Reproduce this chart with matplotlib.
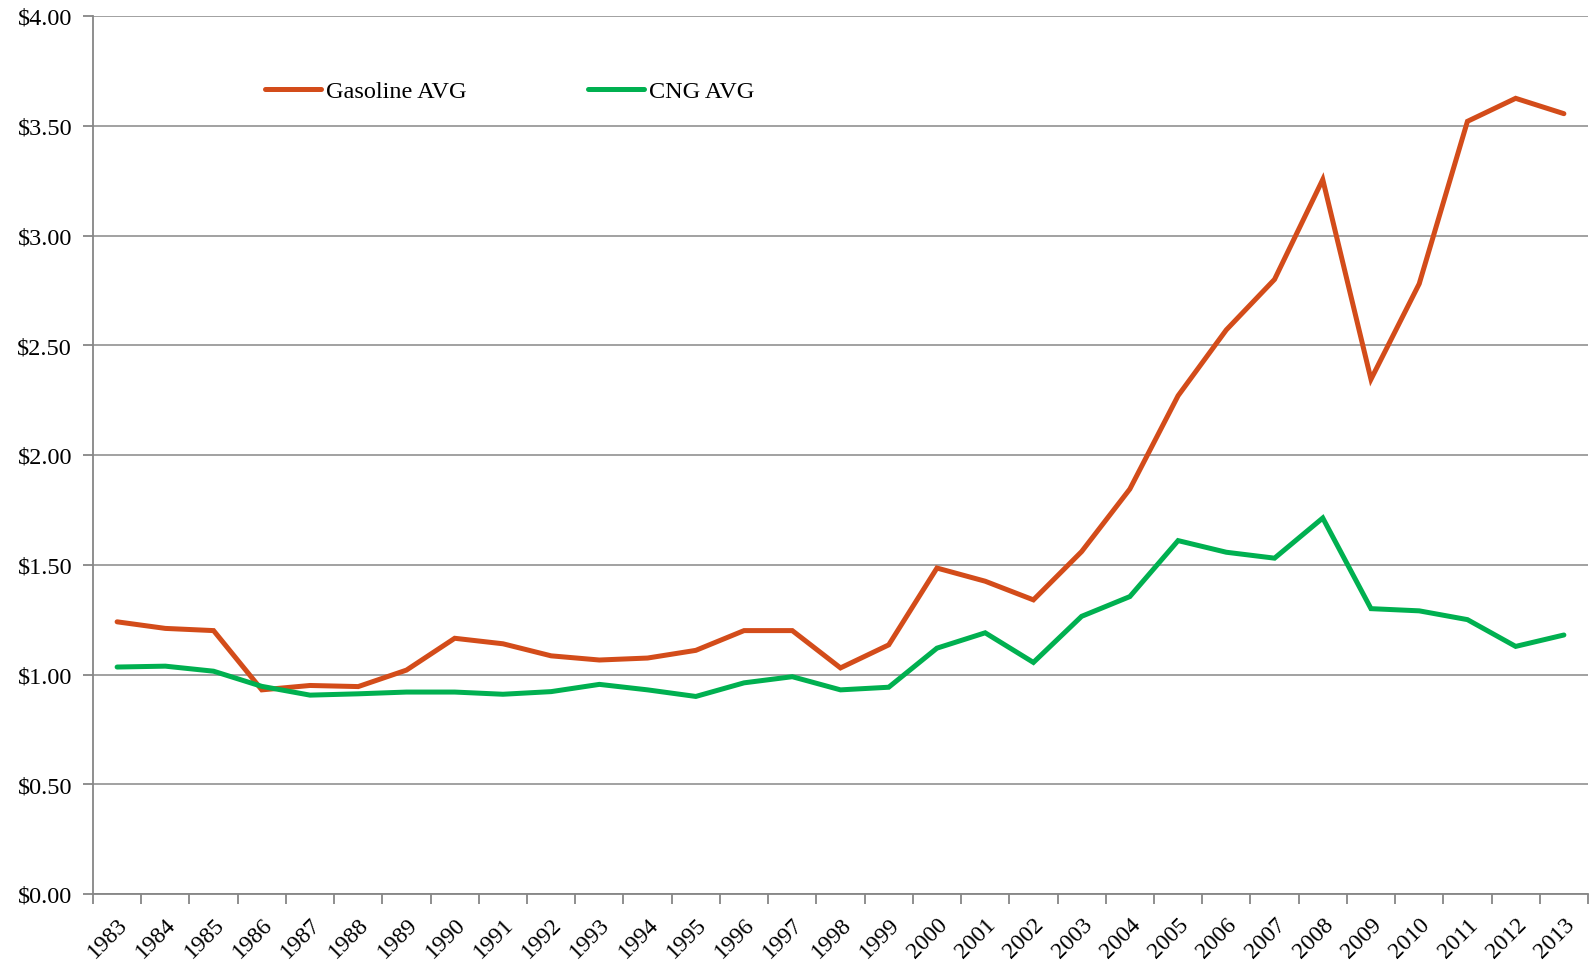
import matplotlib
matplotlib.use("Agg")
import matplotlib.pyplot as plt
from matplotlib.ticker import FixedLocator, NullFormatter, FixedFormatter

years = [str(y) for y in range(1983, 2014)]
gasoline = [1.24, 1.21, 1.20, 0.93, 0.95, 0.945, 1.02, 1.165, 1.14, 1.085, 1.066, 1.075,
            1.11, 1.20, 1.20, 1.03, 1.135, 1.485, 1.425, 1.34, 1.56, 1.845, 2.27, 2.57,
            2.80, 3.255, 2.345, 2.78, 3.52, 3.625, 3.555]
cng = [1.034, 1.038, 1.015, 0.946, 0.906, 0.912, 0.92, 0.92, 0.91, 0.922, 0.955, 0.93,
       0.90, 0.962, 0.99, 0.93, 0.942, 1.12, 1.19, 1.055, 1.265, 1.355, 1.61, 1.557,
       1.53, 1.713, 1.30, 1.29, 1.25, 1.128, 1.18]
yticks = [0.0, 0.5, 1.0, 1.5, 2.0, 2.5, 3.0, 3.5, 4.0]

plt.rcParams['font.family'] = ['Liberation Serif', 'DejaVu Serif']

W, H = 1595, 962
fig = plt.figure(figsize=(W / 100, H / 100), dpi=100)
ax = fig.add_axes([93 / W, 1 - 895 / H, (1588 - 93) / W, (895 - 17) / H])

x = list(range(len(years)))
ax.plot(x, gasoline, color='#D34C1A', lw=3.6, solid_capstyle='round', solid_joinstyle='miter', label='Gasoline AVG', zorder=3)
ax.plot(x, cng, color='#00B050', lw=3.6, solid_capstyle='round', solid_joinstyle='miter', label='CNG AVG', zorder=3)

ax.set_xlim(-0.5, len(years) - 0.5)
ax.set_ylim(0, 4)
ax.set_yticks(yticks)
ax.set_yticklabels(['$%.2f' % v for v in yticks], fontsize=17.5)
ax.yaxis.grid(True, color='#9A9A9A', lw=1.3)
ax.set_axisbelow(True)

ax.xaxis.set_major_locator(FixedLocator([i - 0.5 for i in range(len(years) + 1)]))
ax.xaxis.set_major_formatter(NullFormatter())
ax.xaxis.set_minor_locator(FixedLocator(x))
ax.xaxis.set_minor_formatter(FixedFormatter(years))
ax.tick_params(axis='x', which='major', length=7, width=1.3, color='#868686', direction='out')
ax.tick_params(axis='x', which='minor', length=0, labelsize=17, pad=14)
ax.tick_params(axis='y', length=7, width=1.3, color='#868686', pad=8)
for lab in ax.xaxis.get_minorticklabels():
    lab.set_rotation(45)
    lab.set_ha('right')
    lab.set_va('top')
    lab.set_rotation_mode('anchor')

for s in ['top', 'right']:
    ax.spines[s].set_visible(False)
for s in ['left', 'bottom']:
    ax.spines[s].set_color('#868686')
    ax.spines[s].set_linewidth(1.3)

fig.legend(*ax.get_legend_handles_labels(), loc='center left',
           bbox_to_anchor=(265 / W, 1 - 92 / H), ncol=2, frameon=False, fontsize=17.5,
           handlelength=2.3, handletextpad=0.2, columnspacing=5.0,
           borderpad=0, borderaxespad=0)

fig.savefig('out.png', dpi=100)
